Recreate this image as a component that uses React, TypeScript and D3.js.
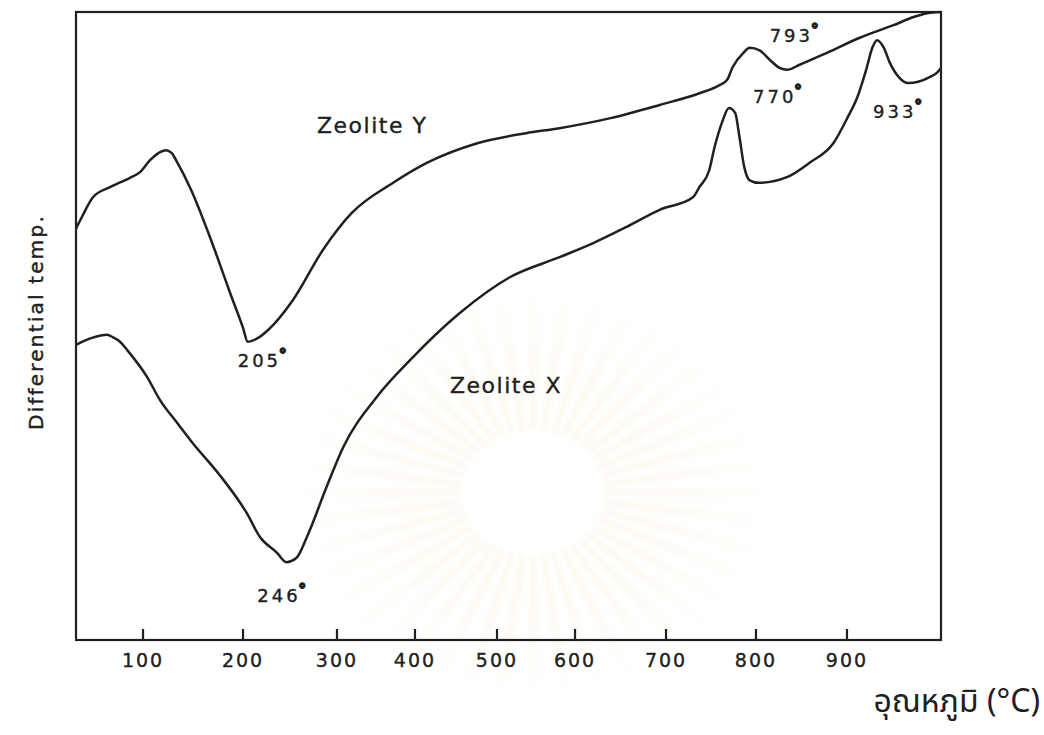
import React from 'react';
import * as d3 from 'd3';

// Temperature axis (°C): labelled ticks and the ends of the frame
const TICK_TEMPS = [100, 200, 300, 400, 500, 600, 700, 800, 900];
const T_START = 33;
const T_END = 1003;

// Zeolite Y DTA trace: temperature (°C) and differential signal (arbitrary units)
const Y_TEMPS = [
  33, 39, 50, 67, 87, 97, 107, 117, 123, 129,
  133, 148, 168, 187, 200, 205, 216, 227, 253, 285,
  319, 372, 415, 476, 537, 580, 639, 693, 738, 760,
  768, 774, 786, 793, 804, 815, 826, 834, 848, 878,
  914, 951, 973, 988, 1003,
];
const Y_SIGNAL = [
  65.5, 67.4, 70.5, 72.1, 73.6, 74.5, 76.4, 77.7, 78.0, 77.5,
  76.4, 71.7, 63.7, 55.3, 49.7, 47.5, 48.1, 49.4, 54.1, 62.1,
  68.0, 72.8, 76.0, 79.1, 80.7, 81.5, 83.1, 85.2, 87.1, 88.4,
  89.2, 91.2, 93.5, 94.3, 93.9, 92.4, 91.1, 90.8, 91.6, 93.5,
  95.9, 97.9, 99.2, 99.8, 100,
];

// Zeolite X DTA trace
const X_TEMPS = [
  33, 49, 64, 70, 77, 84, 104, 117, 134, 150,
  177, 204, 218, 236, 246, 257, 268, 289, 308, 351,
  394, 455, 517, 581, 620, 657, 693, 730, 737, 748,
  754, 762, 770, 777, 781, 787, 793, 803, 834, 859,
  885, 901, 911, 921, 928, 933, 940, 947, 957, 967,
  978, 990, 999, 1003,
];
const X_SIGNAL = [
  47.0, 48.1, 48.6, 48.2, 47.5, 46.2, 41.9, 38.2, 34.6, 31.3,
  26.2, 20.2, 16.4, 13.9, 12.4, 13.1, 16.4, 24.4, 30.7, 38.7,
  44.6, 52.1, 57.8, 61.0, 63.2, 65.8, 68.5, 70.5, 72.1, 74.8,
  78.5, 82.3, 84.7, 83.9, 80.7, 75.3, 73.2, 72.8, 73.7, 76.0,
  79.1, 83.3, 86.3, 90.8, 94.4, 95.5, 94.4, 91.9, 89.6, 88.7,
  88.9, 89.6, 90.4, 91.1,
];

// Annotated peak temperatures (°C)
const Y_PEAKS = [205, 793];
const X_PEAKS = [246, 770, 933];

const SERIES_NAMES = ['Zeolite Y', 'Zeolite X'];
const Y_TITLE = 'Differential temp.';
const X_TITLE = 'อุณหภูมิ (°C)';

// ---- layout ----
const W = 1044;
const H = 735;
const LEFT = 76;
const RIGHT = 941;
const TOP = 12;
const BOTTOM = 640;
// the printed temperature axis is not evenly spaced; fractions of the frame width at each stop
const AXIS_STOPS = [0, 0.0775, 0.1931, 0.3017, 0.3919, 0.4867, 0.5769, 0.6821, 0.7861, 0.8913, 1];

const INK = '#202020';
const FONT = "'DejaVu Sans', 'Open Sans', sans-serif";
const THAI_FONT = "'Noto Sans Thai', 'Loma', 'Garuda', 'Norasi', 'Waree', 'Tlwg Typo', sans-serif";

// label offsets from the annotated extremum (px)
const PEAK_LABEL_OFFSET: Record<number, [number, number]> = {
  205: [-10, 25],
  793: [20, -6],
  246: [-29, 40],
  770: [24, -5],
  933: [-4, 78],
};

const x = d3
  .scaleLinear()
  .domain([T_START, ...TICK_TEMPS, T_END])
  .range(AXIS_STOPS.map((f) => LEFT + f * (RIGHT - LEFT)));
const y = d3.scaleLinear().domain([0, 100]).range([BOTTOM, TOP]);

const line = d3
  .line<[number, number]>()
  .x((d) => x(d[0]))
  .y((d) => y(d[1]))
  .curve(d3.curveMonotoneX);

const ySeries: [number, number][] = Y_TEMPS.map((t, i) => [t, Y_SIGNAL[i]]);
const xSeries: [number, number][] = X_TEMPS.map((t, i) => [t, X_SIGNAL[i]]);

function peakPoints(series: [number, number][], temps: number[]) {
  return temps.map((t) => {
    const p = series.find((d) => d[0] === t) as [number, number];
    return { t, px: x(p[0]), py: y(p[1]) };
  });
}

// faint emblem rays of the printed page
const RAY_COUNT = 44;
const rayArc = d3.arc<number>()
  .innerRadius(62)
  .outerRadius(210)
  .startAngle((i) => (i * 2 * Math.PI) / RAY_COUNT - 0.03)
  .endAngle((i) => (i * 2 * Math.PI) / RAY_COUNT + 0.03);

function PeakLabel({ t, px, py }: { t: number; px: number; py: number }) {
  const [dx, dy] = PEAK_LABEL_OFFSET[t];
  return (
    <text
      x={px + dx}
      y={py + dy}
      fontFamily={FONT}
      fontSize={18}
      letterSpacing={3}
      fill={INK}
      stroke={INK}
      strokeWidth={0.35}
    >
      {t}
      <tspan fontSize={15} dx={-2} dy={-7} stroke={INK} strokeWidth={1.8}>°</tspan>
    </text>
  );
}

export default function App() {
  const yPeaks = peakPoints(ySeries, Y_PEAKS);
  const xPeaks = peakPoints(xSeries, X_PEAKS);
  return (
    <svg
      width={W}
      height={H}
      viewBox={`0 0 ${W} ${H}`}
      style={{ position: 'absolute', left: 0, top: 0, background: '#fff' }}
    >
      <defs>
        <radialGradient id="rayFade" cx="0" cy="0" r="210" gradientUnits="userSpaceOnUse">
          <stop offset="0.3" stopColor="#f3e4b8" stopOpacity={0.32} />
          <stop offset="1" stopColor="#f3e4b8" stopOpacity={0} />
        </radialGradient>
        <filter id="soft" x="-20%" y="-20%" width="140%" height="140%">
          <feGaussianBlur stdDeviation={2.5} />
        </filter>
      </defs>
      <rect width={W} height={H} fill="#ffffff" />

      <g transform="translate(533,493) scale(1.15,1)" filter="url(#soft)">
        {d3.range(RAY_COUNT).map((i) => (
          <path key={i} d={rayArc(i) as string} fill="url(#rayFade)" />
        ))}
      </g>

      {/* frame */}
      <rect
        x={LEFT}
        y={TOP}
        width={RIGHT - LEFT}
        height={BOTTOM - TOP}
        fill="none"
        stroke={INK}
        strokeWidth={2.2}
      />

      {/* temperature ticks */}
      {TICK_TEMPS.map((t) => (
        <g key={t}>
          <line x1={x(t)} x2={x(t)} y1={BOTTOM} y2={BOTTOM - 11} stroke={INK} strokeWidth={2.2} />
          <text
            x={x(t)}
            y={BOTTOM + 27}
            textAnchor="middle"
            fontFamily={FONT}
            fontSize={19}
            letterSpacing={2}
            fill={INK}
            stroke={INK}
            strokeWidth={0.35}
          >
            {t}
          </text>
        </g>
      ))}

      {/* traces */}
      <path d={line(ySeries) as string} fill="none" stroke={INK} strokeWidth={2.5} strokeLinejoin="round" />
      <path d={line(xSeries) as string} fill="none" stroke={INK} strokeWidth={2.5} strokeLinejoin="round" />

      {yPeaks.map((p) => <PeakLabel key={`y${p.t}`} {...p} />)}
      {xPeaks.map((p) => <PeakLabel key={`x${p.t}`} {...p} />)}

      {/* series names */}
      <text x={317} y={133} fontFamily={FONT} fontSize={22} letterSpacing={1.5} fill={INK} stroke={INK} strokeWidth={0.35}>
        {SERIES_NAMES[0]}
      </text>
      <text x={450} y={393} fontFamily={FONT} fontSize={22} letterSpacing={1.5} fill={INK} stroke={INK} strokeWidth={0.35}>
        {SERIES_NAMES[1]}
      </text>

      {/* axis titles */}
      <text
        transform="translate(43,322) rotate(-90)"
        textAnchor="middle"
        fontFamily={FONT}
        fontSize={20}
        letterSpacing={2.2}
        fill={INK}
        stroke={INK}
        strokeWidth={0.4}
      >
        {Y_TITLE}
      </text>
      <text
        x={1040}
        y={712}
        textAnchor="end"
        fontFamily={THAI_FONT}
        fontSize={32}
        fill={INK}
      >
        {X_TITLE}
      </text>
    </svg>
  );
}
